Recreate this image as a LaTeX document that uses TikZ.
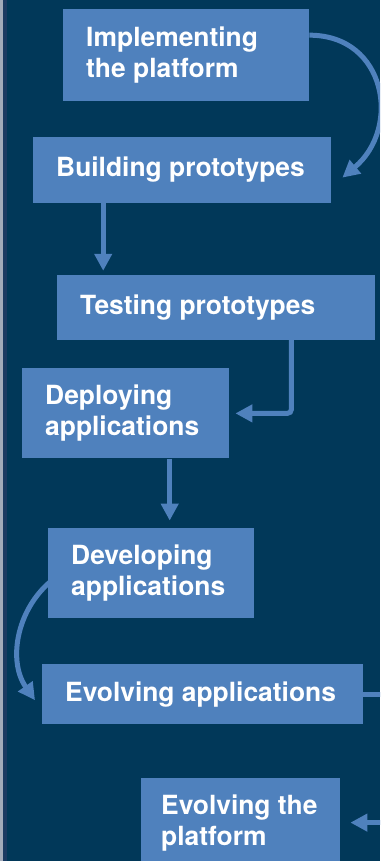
\documentclass[tikz,border=0pt]{standalone}
\usepackage{fontspec}
\setmainfont{TeX Gyre Heros}
\usepackage{xcolor}
\usepackage{tikz}
\usetikzlibrary{arrows.meta,calc,positioning}

\definecolor{panelnavy}{HTML}{013859}
\definecolor{stageblue}{HTML}{4F81BD}
\definecolor{rimgrey}{HTML}{A3ABBA}
\definecolor{rimnavy}{HTML}{1B3A62}

\tikzset{
  stage/.style={fill=stageblue, text=white, anchor=north west,
    font=\bfseries\fontsize{26.4}{31}\selectfont,
    inner xsep=23pt, inner ysep=0pt, align=flush left},
  flow/.style={draw=stageblue, line width=5pt,
    -{Triangle[length=17pt,width=17pt]}},
  link/.style={draw=stageblue, line width=5pt}
}

\begin{document}
\begin{tikzpicture}[x=1pt,y=1pt]
      \useasboundingbox (0,0) rectangle (380,861);
      \clip (0,0) rectangle (380,861);
      \fill[panelnavy] (0,0) rectangle (380,861);
      \fill[rimgrey] (0,0) rectangle (2.5,861);
      \fill[rimnavy] (2.5,0) rectangle (7,861);

      \node[stage, text width=200pt, minimum height=92pt]
        (impl) at (63,852) {Implementing\\the~platform};
      \node[stage, text width=252pt, minimum height=66pt,
          below right=35pt and -30pt of impl.south west]
        (build) {Building~prototypes};
      \node[stage, text width=272pt, minimum height=65pt,
          below right=72pt and 24pt of build.south west]
        (test) {Testing~prototypes};
      \node[stage, text width=161pt, minimum height=90pt,
          below right=28pt and -35pt of test.south west]
        (deploy) {Deploying\\applications};
      \node[stage, text width=160pt, minimum height=90pt,
          below right=69pt and 26pt of deploy.south west]
        (dev) {Developing\\applications};
      \node[stage, text width=275pt, minimum height=60pt,
          below right=46pt and -6pt of dev.south west]
        (evapp) {Evolving~applications};
      \node[stage, text width=159pt, inner xsep=20pt, minimum height=90pt,
          below right=53pt and 99pt of evapp.south west]
        (evplat) {Evolving~the\\platform};

      \coordinate (rim) at (383,0);
      \coordinate (bt) at ([xshift=-79pt]build.south);
      \coordinate (dd) at ([xshift=44pt]deploy.south);

      \draw[flow] ([yshift=20pt]impl.east) to[out=0, in=40, looseness=1.35]
        ([shift={(11pt,-8pt)}]build.east);
      \draw[flow, shorten >=4pt] (bt) -- (bt |- test.north);
      \draw[flow, rounded corners=4pt] ([xshift=-84pt]test.south east)
        |- ([xshift=6pt]deploy.east);
      \draw[flow, shorten >=7pt] (dd) -- (dd |- dev.north);
      \draw[flow] ([xshift=15pt]dev.west) to[out=210, in=125]
        ([shift={(-7pt,-6pt)}]evapp.west);
      \draw[link] (evapp.east) -- (evapp.east -| rim);
      \draw[flow] (evplat.east -| rim) -- ([xshift=10pt]evplat.east);
    \end{tikzpicture}
\end{document}
